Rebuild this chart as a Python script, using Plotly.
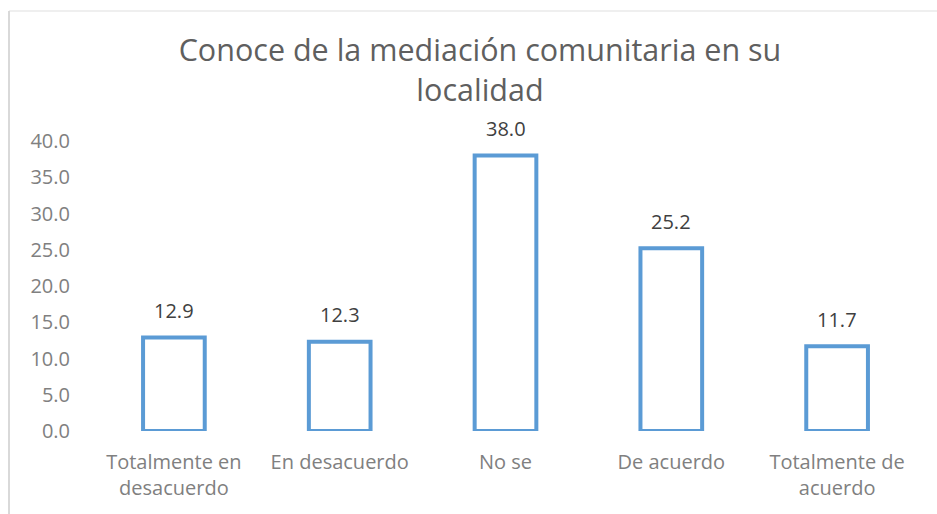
import plotly.graph_objects as go

categories = ["Totalmente en<br>desacuerdo", "En desacuerdo", "No se", "De acuerdo", "Totalmente de<br>acuerdo"]
values = [12.9, 12.3, 38.0, 25.2, 11.7]
y_ticks = [0, 5, 10, 15, 20, 25, 30, 35, 40]
y_tick_labels = [f"{v:.1f}" for v in y_ticks]
title_text = "Conoce de la mediación comunitaria en su<br>localidad"

W, H = 937, 514
L, R, T, B = 91, 17, 141, 83
pw, ph = W - L - R, H - T - B

FONT = "Open Sans"

fig = go.Figure()
fig.add_trace(go.Bar(
    x=categories, y=values,
    marker=dict(color="white", line=dict(color="#5B9BD5", width=4)),
    width=0.372,
    hoverinfo="skip",
))

for c, v in zip(categories, values):
    fig.add_annotation(x=c, y=v, text=f"{v:.1f}", showarrow=False,
                       yanchor="middle", yshift=27,
                       font=dict(family=FONT, size=20, color="#404040"))

# chart-area border (light gray, left and top edges visible)
x9 = (9 - L) / pw
y11 = (H - B - 11) / ph
ybot = (H - B - H) / ph
fig.add_shape(type="line", xref="paper", yref="paper", x0=x9, x1=(W - L) / pw, y0=y11, y1=y11,
              line=dict(color="#eaeaea", width=1.5))
fig.add_shape(type="line", xref="paper", yref="paper", x0=x9, x1=x9, y0=y11, y1=ybot,
              line=dict(color="#d9d9d9", width=2))

fig.update_layout(
    width=W, height=H,
    margin=dict(l=L, r=R, t=T, b=B),
    paper_bgcolor="white", plot_bgcolor="white",
    showlegend=False,
    title=dict(text=title_text, x=480 / W, xanchor="center", y=1 - 61 / H, yanchor="top",
               font=dict(family=FONT, size=30.5, color="#5f5f5f")),
    xaxis=dict(showgrid=False, showline=False, zeroline=False, ticks="",
               tickfont=dict(family=FONT, size=20, color="#808080"),
               ticklabelstandoff=17),
    yaxis=dict(range=[0, 40], tickvals=y_ticks, ticktext=y_tick_labels,
               showgrid=False, showline=False, zeroline=False, ticks="",
               tickfont=dict(family=FONT, size=20, color="#808080"),
               ticklabelstandoff=20),
    bargap=0.628,
)

fig.write_html("out.html", config={"displayModeBar": False},
               post_script="document.body.style.margin='0';")
